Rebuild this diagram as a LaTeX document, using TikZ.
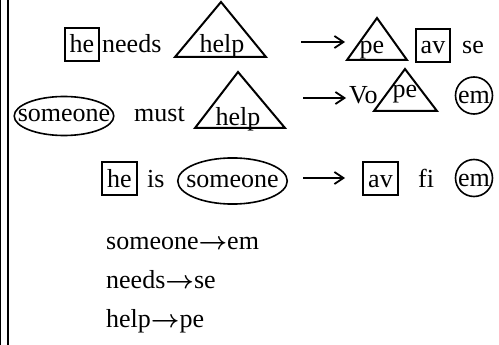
\documentclass[tikz,border=0pt]{standalone}
\usepackage{fontspec}
\setmainfont{Liberation Serif}
\usetikzlibrary{shapes, arrows.meta, positioning}

\begin{document}
\begin{tikzpicture}[x=1pt, y=-1pt,
word/.style={anchor=base, inner sep=0pt, font=\fontsize{26}{30}\selectfont},
boxed/.style={word, rectangle, draw, line width=1.6pt, text height=18pt, text depth=1pt,
inner xsep=5pt, inner ysep=7pt},
oval/.style={word, ellipse, draw, line width=1.6pt, text height=16pt, text depth=4pt,
inner xsep=-11pt, inner ysep=3.8pt},
ring/.style={word, circle, draw, line width=1.6pt, text height=16pt, text depth=0pt,
anchor=center, minimum size=37pt},
tri/.style={draw, line width=2pt},
map/.style={draw, line width=1.8pt, -{Straight Barb[length=9pt, width=12pt]}},
rule/.style={word, anchor=base west}
]
\useasboundingbox (0,0) rectangle (499,345);
\draw [line width=1pt] (0.5,0) -- (0.5,345);
\draw [line width=2pt] (8.3,0) -- (8.3,345);

% first row
\node [boxed] (he-1) at (82,53) {he};
\node [rule] (needs-1) at (102,53) {needs};
\node [word] (help-1) at (222,53) {help};
\draw [tri] (175,57) -- (266,57) -- (221,2) -- cycle;
\coordinate (from-1) at (301,42);
\coordinate (to-1) at (345,42);
\path [map] (from-1) -- (to-1);
\node [word] (pe-1) at (372,54) {pe};
\draw [tri] (347,60) -- (407,60) -- (377,18) -- cycle;
\node [boxed] (av-1) at (433,54) {av};
\node [rule] (se-1) at (462,54) {se};

% second row
\node [oval] (someone-2) at (64,122) {someone};
\node [rule] (must-2) at (134,122) {must};
\node [word] (help-2) at (238,126) {help};
\draw [tri] (195,128) -- (285,128) -- (238,72) -- cycle;
\coordinate (from-2) at (303,98);
\coordinate (to-2) at (346,98);
\path [map] (from-2) -- (to-2);
\node [rule] (vo-2) at (349,104) {Vo};
\node [word] (pe-2) at (405,98) {pe};
\draw [tri] (374,111) -- (437,111) -- (405,69) -- cycle;
\node [ring] (em-2) at (474,95.5) {em};

% third row
\node [boxed] (he-3) at (119.5,187) {he};
\node [rule] (is-3) at (147,187) {is};
\node [oval, inner xsep=-7.5pt, inner ysep=6.3pt] (someone-3) at (232.5,187) {someone};
\coordinate (from-3) at (303,178);
\coordinate (to-3) at (345,178);
\path [map] (from-3) -- (to-3);
\node [boxed] (av-3) at (380.5,187) {av};
\node [rule] (fi-3) at (418,187) {fi};
\node [ring] (em-3) at (474,178) {em};

% replacements
\node [rule] (em-rule) at (106,249) {someone{\boldmath$\rightarrow$}em};
\node [rule] (se-rule) at (106,288) {needs{\boldmath$\rightarrow$}se};
\node [rule] (pe-rule) at (106,327) {help{\boldmath$\rightarrow$}pe};

\end{tikzpicture}
\end{document}
